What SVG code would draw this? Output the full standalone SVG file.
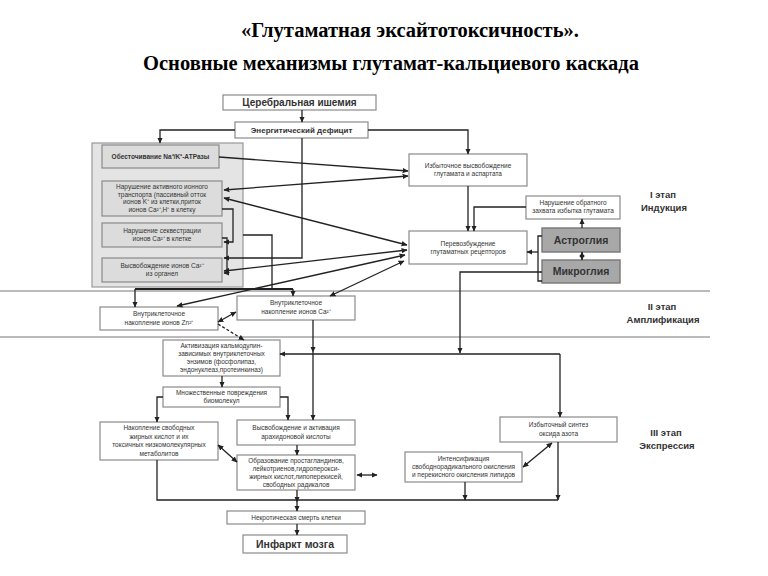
<svg xmlns="http://www.w3.org/2000/svg" width="768" height="576" viewBox="0 0 768 576">
<defs>
<marker id="a" viewBox="0 0 10 10" refX="9" refY="5" markerWidth="6" markerHeight="6" markerUnits="userSpaceOnUse" orient="auto-start-reverse"><path d="M0,0.5 L10,5 L0,9.5 z" fill="#222"/></marker>
<style>
.bx{fill:#fff;stroke:#8a8a8a;stroke-width:1.2}
.gb{fill:#dcdcdc;stroke:#8a8a8a;stroke-width:1.2}
.dk{fill:#a8a8a8;stroke:#777;stroke-width:1.4}
.t{font-family:"Liberation Sans",Arial,sans-serif;font-size:6.5px;fill:#333;text-anchor:middle}
.tb{font-family:"Liberation Sans",Arial,sans-serif;font-weight:bold;fill:#333;text-anchor:middle}
.ttl{font-family:"Liberation Serif","Times New Roman",serif;font-weight:bold;font-size:20.5px;fill:#000;text-anchor:middle}
.c path{fill:none;stroke:#222;stroke-width:1.3}
.ar{marker-end:url(#a)}
.bi{marker-start:url(#a);marker-end:url(#a)}
.sec{stroke:#777;stroke-width:1;fill:none}
</style>
</defs>
<rect width="768" height="576" fill="#fff"/>
<text class="ttl" x="410" y="37">«Глутаматная эксайтотоксичность».</text>
<text class="ttl" x="391" y="70">Основные механизмы глутамат-кальциевого каскада</text>

<path class="sec" d="M0,291 H710 M0,337 H710"/>

<g id="n-ischemia"><rect class="bx" x="223" y="95" width="153" height="15"/><text class="tb" font-size="10" x="299.5" y="106">Церебральная ишемия</text></g>
<g id="n-energy"><rect class="bx" x="235" y="122" width="133" height="16"/><text class="tb" font-size="8" x="301.5" y="133">Энергитический дефицит</text></g>
<g id="n-gray"><rect x="92" y="143" width="151" height="144" fill="#e4e4e4" stroke="#999" stroke-width="1.2"/></g>
<g id="n-atp"><rect class="gb" x="102" y="145" width="117" height="23"/><text class="t" x="160.5" y="159" font-weight="bold">Обесточивание Na⁺/K⁺-АТРазы</text></g>
<g id="n-transport"><rect class="gb" x="102" y="181" width="120" height="35"/><text class="t" x="162"><tspan x="162" y="189">Нарушение активного ионного</tspan><tspan x="162" y="196.5">транспорта (пассивный отток</tspan><tspan x="162" y="204">ионов K⁺ из клетки,приток</tspan><tspan x="162" y="211.5">ионов Ca²⁺,H⁺ в клетку</tspan></text></g>
<g id="n-seq"><rect class="gb" x="102" y="223" width="120" height="24"/><text class="t"><tspan x="162" y="233">Нарушение секвестрации</tspan><tspan x="162" y="241">ионов Ca²⁺ в клетке</tspan></text></g>
<g id="n-org"><rect class="gb" x="102" y="258" width="120" height="24"/><text class="t"><tspan x="162" y="268">Высвобождение ионов Ca²⁺</tspan><tspan x="162" y="276">из органел</tspan></text></g>
<g id="n-glurel"><rect class="bx" x="409" y="154" width="118" height="32"/><text class="t"><tspan x="468" y="168">Избыточное высвобождение</tspan><tspan x="468" y="176">глутамата и аспартата</tspan></text></g>
<g id="n-reuptake"><rect class="bx" x="526" y="196" width="94" height="23"/><text class="t"><tspan x="573" y="205">Нарушение обратного</tspan><tspan x="573" y="213">захвата избытка глутамата</tspan></text></g>
<g id="n-overexc"><rect class="bx" x="409" y="231" width="118" height="33"/><text class="t"><tspan x="468" y="246">Перевозбуждение</tspan><tspan x="468" y="254">глутаматных рецепторов</tspan></text></g>
<g id="n-astro"><rect class="dk" x="542" y="228" width="78" height="24"/><text class="tb" font-size="10.5" x="581" y="244">Астроглия</text></g>
<g id="n-micro"><rect class="dk" x="542" y="260" width="78" height="23"/><text class="tb" font-size="10.5" x="581" y="275">Микроглия</text></g>
<g id="s1"><text class="tb" font-size="9.5"><tspan x="663" y="198">I этап</tspan><tspan x="664" y="211">Индукция</tspan></text></g>
<g id="s2"><text class="tb" font-size="9.5"><tspan x="662" y="310">II этап</tspan><tspan x="663" y="323">Амплификация</tspan></text></g>
<g id="s3"><text class="tb" font-size="9.5"><tspan x="666" y="436">III этап</tspan><tspan x="667" y="449">Экспрессия</tspan></text></g>
<g id="n-zn"><rect class="bx" x="100" y="307" width="118" height="23"/><text class="t"><tspan x="159" y="316">Внутриклеточное</tspan><tspan x="159" y="325">накопление ионов Zn²⁺</tspan></text></g>
<g id="n-ca"><rect class="bx" x="237" y="296" width="118" height="24"/><text class="t"><tspan x="296" y="305">Внутриклеточное</tspan><tspan x="296" y="314">накопление ионов  Ca²⁺</tspan></text></g>
<g id="n-calm"><rect class="bx" x="163" y="340" width="117" height="36"/><text class="t"><tspan x="221.5" y="348">Активизация кальмодулин-</tspan><tspan x="221.5" y="356">зависимых внутриклеточных</tspan><tspan x="221.5" y="364">энзимов (фосфолипаз,</tspan><tspan x="221.5" y="372">эндонуклеаз,протеинкиназ)</tspan></text></g>
<g id="n-damage"><rect class="bx" x="163" y="387" width="117" height="20"/><text class="t"><tspan x="221.5" y="395">Множественные повреждения</tspan><tspan x="221.5" y="403">биомолекул</tspan></text></g>
<g id="n-ffa"><rect class="bx" x="100" y="422" width="118" height="38"/><text class="t"><tspan x="159" y="430">Накопление свободных</tspan><tspan x="159" y="438.5">жирных кислот и их</tspan><tspan x="159" y="447">токсичных низкомолекулярных</tspan><tspan x="159" y="455.5">метаболитов</tspan></text></g>
<g id="n-ara"><rect class="bx" x="237" y="420" width="118" height="25"/><text class="t"><tspan x="296" y="430">Высвобождение и активация</tspan><tspan x="296" y="439">арахидоновой кислоты</tspan></text></g>
<g id="n-pg"><rect class="bx" x="237" y="455" width="118" height="35"/><text class="t"><tspan x="296" y="463">Образование простагландинов,</tspan><tspan x="296" y="471">лейкотриенов,гидроперокси-</tspan><tspan x="296" y="479">жирных кислот,липоперекисей,</tspan><tspan x="296" y="487">свободных радикалов</tspan></text></g>
<g id="n-no"><rect class="bx" x="500" y="417" width="117" height="25"/><text class="t"><tspan x="558.5" y="427">Избыточный синтез</tspan><tspan x="558.5" y="436">оксида азота</tspan></text></g>
<g id="n-lpo"><rect class="bx" x="405" y="452" width="117" height="30"/><text class="t"><tspan x="463.5" y="461">Интенсификация</tspan><tspan x="463.5" y="469">свободнорадикального окисления</tspan><tspan x="463.5" y="477">и перекисного окисления липидов</tspan></text></g>
<g id="n-necro"><rect class="bx" x="227" y="511" width="138" height="13"/><text class="t" font-size="7" x="296" y="520">Некротическая смерть клетки</text></g>
<g id="n-infarct"><rect class="bx" x="243" y="535" width="104" height="18"/><text class="tb" font-size="10.5" x="295" y="548">Инфаркт мозга</text></g>

<g id="connectors" class="c">
<path class="ar" d="M302,110 V122"/>
<path class="ar" d="M235,130 H160 V143"/>
<path class="ar" d="M368,130 H468 V154"/>
<path class="ar" d="M302,138 V258 H224"/>
<path class="ar" d="M219,157 L408,171"/>
<path class="bi" d="M408,176 L224,190"/>
<path class="bi" d="M224,198 L407,245"/>
<path class="bi" d="M224,271 L407,250"/>
<path class="bi" d="M177,306 L405,255"/>
<path class="bi" d="M330,296 L404,261"/>
<path d="M135,289 H293" style="stroke-width:2"/>
<path class="ar" d="M135,289 V307"/>
<path class="ar" d="M293,289 V296"/>
<path d="M243,235 H272 V289"/>
<path class="ar" d="M222,209 H233 V242 H224"/>
<path class="ar" d="M222,238 H227 V273 H224"/>
<path class="ar" d="M526,207 H474 V231"/>
<path class="ar" d="M468,186 V231"/>
<path class="ar" d="M582,228 V219"/>
<path class="bi" d="M582,252 V260"/>
<path d="M542,236 H538 V281 H542"/>
<path class="ar" d="M538,252 H527"/>
<path class="ar" d="M542,272 H460 V353"/>
<path class="bi" d="M218,322 L236,312"/>
<path class="ar" d="M218,324 L244,340" style="stroke-dasharray:3,2"/>
<path class="ar" d="M313,320 V352"/>
<path class="ar" d="M313,352 V420"/>
<path class="ar" d="M560,354 H280"/>
<path class="ar" d="M560,354 V417"/>
<path class="ar" d="M222,376 V387"/>
<path class="ar" d="M163,397 H157 V422"/>
<path class="ar" d="M280,397 H288 V420"/>
<path class="ar" d="M297,445 V455"/>
<path class="bi" d="M218,445 L237,462"/>
<path class="bi" d="M357,475 H377"/>
<path d="M157,460 V500 H558"/>
<path class="ar" d="M297,490 V502"/>
<path class="ar" d="M297,502 V511"/>
<path class="ar" d="M465,482 V500"/>
<path class="ar" d="M558,442 V500"/>
<path class="bi" d="M552,443 L523,467"/>
<path class="ar" d="M297,524 V535"/>
</g>
</svg>
